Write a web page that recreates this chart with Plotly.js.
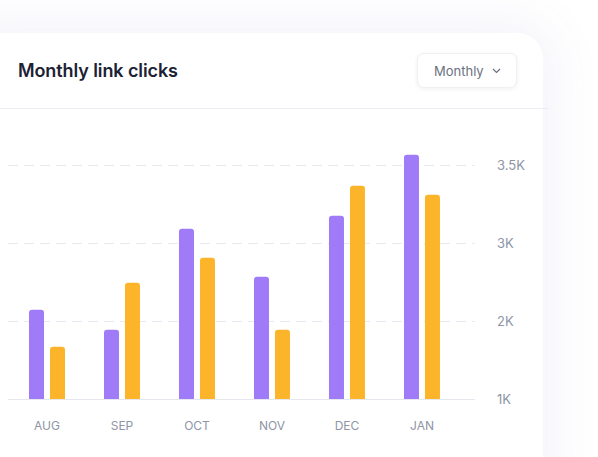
<!DOCTYPE html>
<html>
<head>
<meta charset="utf-8">
<script src="https://cdn.plot.ly/plotly-3.0.1.min.js"></script>
<style>
  html, body { margin:0; padding:0; width:598px; height:457px; overflow:hidden; background:#ffffff; font-family: Inter, "Noto Sans", sans-serif; }
  #card { position:absolute; left:-30px; top:33px; width:573px; height:460px; background:#ffffff;
          border-top-right-radius:26px; box-shadow: 0 0 50px 12px rgba(95,105,190,0.07); }
  #title { position:absolute; left:18px; top:59px; font-size:18px; font-weight:600; color:#1b2234; letter-spacing:-0.1px; line-height:24px; }
  #dd { position:absolute; left:417px; top:53px; width:100px; height:35px; box-sizing:border-box; border:1px solid #eef0f4;
        border-radius:7px; background:#fff; box-shadow:0 1px 4px rgba(30,40,80,0.07); }
  #dd span { position:absolute; left:16px; top:9px; font-size:13px; color:#6b7280; line-height:16px; }
  #dd svg { position:absolute; left:74px; top:14px; }
  #divider { position:absolute; left:0; top:108px; width:549px; height:1px; background:#eceef3; }
  #chart { position:absolute; left:0; top:0; width:598px; height:457px; }
</style>
</head>
<body>
<div id="card"></div>
<div id="title">Monthly link clicks</div>
<div id="dd"><span>Monthly</span>
  <svg width="9" height="6" viewBox="0 0 9 6"><path d="M1 1 L4.5 4.5 L8 1" fill="none" stroke="#6b7280" stroke-width="1.2"/></svg>
</div>
<div id="divider"></div>
<div id="chart"></div>
<script>
const months = ["AUG", "SEP", "OCT", "NOV", "DEC", "JAN"];
const seriesA = [2145, 1888, 3183, 2568, 3350, 4132];
const seriesB = [1670, 2491, 2812, 1888, 3735, 3619];
const tickValues = [1000, 2000, 3000, 4000];
const tickLabels = ["1K", "2K", "3K", "3.5K"];

const idx = months.map((m, i) => i);

const traces = [
  { type: "bar", x: idx, y: seriesA, width: 0.2, offset: -0.24, marker: { color: "#9F7BF7" }, hoverinfo: "skip" },
  { type: "bar", x: idx, y: seriesB, width: 0.2, offset: 0.04, marker: { color: "#FCB52B" }, hoverinfo: "skip" }
];

const layout = {
  width: 598, height: 457,
  margin: { l: 8, r: 123, t: 120, b: 58 },
  paper_bgcolor: "rgba(0,0,0,0)", plot_bgcolor: "rgba(0,0,0,0)",
  showlegend: false,
  barcornerradius: 3,
  xaxis: {
    range: [-0.52, 5.707], tickvals: idx, ticktext: months,
    showgrid: false, zeroline: false, showline: true, linecolor: "#e6e7ee", linewidth: 1,
    ticks: "", ticklabelstandoff: 16,
    tickfont: { family: "Inter, sans-serif", size: 12, color: "#8e95a5" }, fixedrange: true
  },
  yaxis: {
    side: "right", range: [1000, 4577], tickvals: tickValues, ticktext: tickLabels,
    showgrid: true, gridcolor: "#e8e9f0", griddash: "10px,6px", gridwidth: 1,
    zeroline: false, showline: false, ticks: "", ticklabelstandoff: 21,
    tickfont: { family: "Inter, sans-serif", size: 13, color: "#8e95a5" }, fixedrange: true
  }
};

Plotly.newPlot("chart", traces, layout, { displayModeBar: false, staticPlot: true });
</script>
</body>
</html>
